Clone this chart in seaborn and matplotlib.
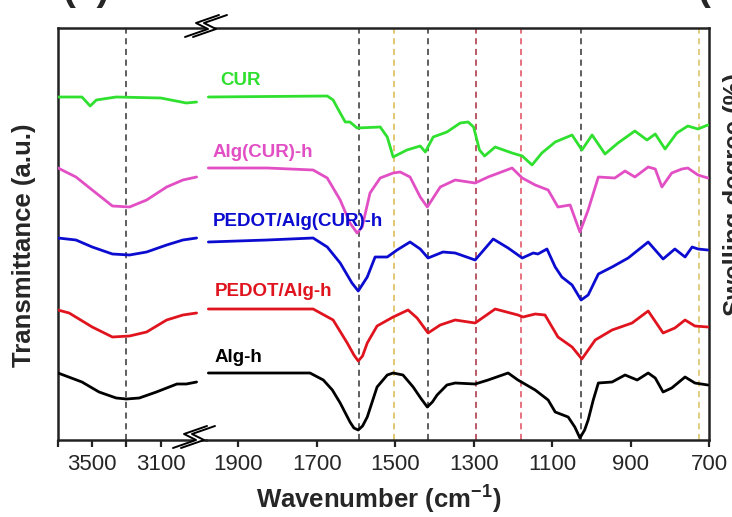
import numpy as np
import pandas as pd
import matplotlib
matplotlib.use("Agg")
import matplotlib.pyplot as plt
import seaborn as sns
from matplotlib.lines import Line2D
from matplotlib.patches import Polygon

sns.set_theme(style="white")
plt.rcParams["font.family"] = ["Liberation Sans", "DejaVu Sans"]
plt.rcParams["mathtext.fontset"] = "custom"
plt.rcParams["mathtext.rm"] = "Liberation Sans"
plt.rcParams["mathtext.bf"] = "Liberation Sans:bold"
plt.rcParams["lines.solid_joinstyle"] = "round"
plt.rcParams["lines.solid_capstyle"] = "round"

# ---------------- data (transmittance, arbitrary offset units) ----------------
alg_h_wn = [3700, 3560, 3460, 3360, 3300, 3225, 3125, 3005, 2950, 2890,
            1976, 1717, 1683, 1660, 1640, 1615, 1605, 1594, 1583, 1571, 1546, 1520, 1505,
            1480, 1454, 1435, 1418, 1405, 1393, 1368, 1347, 1296, 1263, 1212, 1187, 1143,
            1110, 1092, 1059, 1042, 1029, 1017, 1008, 995, 982, 947, 914, 883, 855, 837,
            817, 795, 761, 736, 703]
alg_h_T = [67, 58, 48, 42, 41, 42, 48, 56, 56, 58,
           67, 67, 60, 50, 37, 18, 12, 10, 14, 23, 53, 65, 67,
           65, 53, 42, 33, 38, 45, 55, 57, 56, 60, 67, 60, 50,
           40, 28, 23, 13, 2, 10, 20, 40, 57, 58, 65, 60, 67, 62,
           48, 52, 63, 57, 55]

pedot_alg_wn = [3700, 3635, 3500, 3382, 3282, 3182, 3065, 2970, 2890,
                1976, 1709, 1658, 1622, 1605, 1594, 1583, 1571, 1546, 1505, 1467, 1444,
                1416, 1385, 1347, 1296, 1245, 1187, 1174, 1143, 1118, 1085, 1049, 1024,
                990, 947, 896, 855, 817, 787, 761, 736, 703]
pedot_alg_T = [130, 127, 113, 103, 104, 108, 120, 125, 127,
               131, 131, 120, 97, 85, 79, 84, 97, 114, 123, 130, 122,
               107, 115, 120, 117, 131, 125, 123, 126, 125, 103, 93, 81,
               100, 110, 117, 129, 107, 112, 120, 114, 113]

pedot_algcur_wn = [3700, 3595, 3500, 3382, 3282, 3182, 3065, 2970, 2890,
                   1976, 1826, 1709, 1673, 1640, 1610, 1594, 1571, 1551, 1520, 1495, 1462,
                   1436, 1416, 1378, 1347, 1296, 1250, 1212, 1176, 1148, 1136, 1113, 1092,
                   1075, 1049, 1026, 1008, 982, 947, 906, 855, 817, 787, 761, 743, 728, 703]
pedot_algcur_T = [202, 200, 193, 186, 185, 188, 195, 200, 202,
                  198, 200, 202, 193, 177, 157, 149, 163, 183, 183, 190, 198,
                  191, 182, 188, 187, 180, 201, 192, 182, 187, 186, 191, 173,
                  163, 155, 140, 145, 166, 173, 182, 198, 181, 191, 183, 193, 191, 190]

algcur_wn = [3700, 3595, 3500, 3382, 3282, 3182, 3065, 2970, 2890,
             1976, 1826, 1709, 1673, 1640, 1615, 1597, 1584, 1564, 1538, 1505, 1487,
             1462, 1436, 1418, 1385, 1347, 1296, 1263, 1202, 1176, 1143, 1110, 1085,
             1054, 1029, 1008, 982, 940, 914, 889, 855, 837, 820, 795, 769, 754, 728, 703]
algcur_T = [272, 263, 250, 234, 233, 240, 253, 260, 263,
            272, 272, 270, 262, 240, 217, 207, 213, 247, 262, 267, 268,
            263, 243, 233, 253, 260, 257, 263, 272, 262, 255, 250, 233,
            235, 208, 230, 263, 262, 269, 263, 273, 271, 253, 267, 271, 272, 265, 262]

cur_wn = [3700, 3560, 3512, 3476, 3360, 3100, 2950, 2890,
          1976, 1673, 1658, 1640, 1627, 1615, 1597, 1538, 1520, 1505, 1470, 1436,
          1423, 1403, 1368, 1334, 1314, 1300, 1285, 1272, 1245, 1202, 1176, 1151,
          1126, 1092, 1049, 1024, 998, 965, 932, 889, 858, 837, 812, 782, 754, 728, 703]
cur_T = [343, 343, 334, 340, 343, 342, 337, 338,
         343, 344, 340, 327, 318, 318, 312, 313, 303, 283, 290, 294,
         288, 303, 308, 317, 318, 313, 290, 284, 293, 287, 284, 275,
         287, 298, 305, 290, 305, 286, 297, 309, 300, 306, 291, 307, 314, 311, 315]

samples = ["CUR", "Alg(CUR)-h", "PEDOT/Alg(CUR)-h", "PEDOT/Alg-h", "Alg-h"]
sample_colors = ["#2fe02f", "#e24fc4", "#0c0cd0", "#e0141e", "#000000"]

label_wn = [1946, 1966, 1966, 1959, 1961]
label_T = [360, 288, 218, 148, 83]

ref_wn = [3300, 1593, 1502, 1417, 1293, 1180, 1025, 725]
ref_colors = ["#333333", "#333333", "#d9b84a", "#333333", "#a82a3c", "#e04a5c", "#333333", "#d9c060"]

left_ticks = [3700, 3500, 3300, 3100]
left_ticklabels = ["", "3500", "", "3100"]
right_ticks = [1900, 1700, 1500, 1300, 1100, 900, 700]

# ---------------- build dataframe ----------------
frames = []
for name, wn, T in [("CUR", cur_wn, cur_T), ("Alg(CUR)-h", algcur_wn, algcur_T),
                    ("PEDOT/Alg(CUR)-h", pedot_algcur_wn, pedot_algcur_T),
                    ("PEDOT/Alg-h", pedot_alg_wn, pedot_alg_T), ("Alg-h", alg_h_wn, alg_h_T)]:
    d = pd.DataFrame({"wn": wn, "T": T})
    d["sample"] = name
    d["panel"] = np.where(d["wn"] > 2500, "high", "low")
    frames.append(d)
df = pd.concat(frames, ignore_index=True)
palette = dict(zip(samples, sample_colors))

W, H = 732, 517
fig = plt.figure(figsize=(W / 100, H / 100), dpi=100)
fx = lambda px: px / W
fy = lambda py: 1 - py / H

axL = fig.add_axes([fx(58), fy(440), fx(206) - fx(58), fy(28) - fy(440)])
axR = fig.add_axes([fx(206), fy(440), fx(709) - fx(206), fy(28) - fy(440)])

for ax, panel, xl in [(axL, "high", (3700, 2835)), (axR, "low", (1982, 700))]:
    sub = df[df["panel"] == panel]
    sns.lineplot(data=sub, x="wn", y="T", hue="sample", palette=palette,
                 estimator=None, sort=True, lw=2.0, legend=False, ax=ax, zorder=3)
    ax.set_xlim(*xl)
    ax.set_ylim(0, 412)
    ax.set_yticks([])
    ax.set_xlabel("")
    ax.set_ylabel("")
    for w, c in zip(ref_wn, ref_colors):
        if xl[1] <= w <= xl[0]:
            ax.axvline(w, color=c, lw=1.1, ls=(0, (4, 3)), zorder=2)
    for s in ax.spines.values():
        s.set_color("#222222")
        s.set_linewidth(1.8)
    ax.tick_params(axis="x", direction="out", length=5, width=1.6, color="#222222",
                   labelsize=16, pad=5, bottom=True)
    ax.set_facecolor("none")

axL.spines["right"].set_visible(False)
axR.spines["left"].set_visible(False)
axL.set_xticks(left_ticks)
axL.set_xticklabels(left_ticklabels)
axR.set_xticks(right_ticks)
axR.set_xticklabels([str(t) for t in right_ticks])

for name, w, t, c in zip(samples, label_wn, label_T, sample_colors):
    axR.text(w, t, name, color=c, fontsize=13.5, fontweight="bold", ha="left", va="center", zorder=5)

# axis break symbols
def draw_break(cx, cy):
    shape = np.array([(-17, 11), (6, 3), (-6, -3), (17, -11)], dtype=float)
    a = shape + np.array([cx - 4, cy])
    b = shape + np.array([cx + 4, cy])
    poly = np.vstack([a, b[::-1]])
    fig.add_artist(Polygon(np.column_stack([poly[:, 0] / W, 1 - poly[:, 1] / H]),
                           closed=True, facecolor="white", edgecolor="none",
                           transform=fig.transFigure, zorder=10))
    for p in (a, b):
        fig.add_artist(Line2D(p[:, 0] / W, 1 - p[:, 1] / H, color="black", lw=1.4,
                              transform=fig.transFigure, zorder=11))

draw_break(206, 26)
draw_break(194, 437)

fig.text(fx(24), fy(245), "Transmittance (a.u.)", rotation=90, ha="center", va="center",
         fontsize=18.5, fontweight="bold")
fig.text(fx(379), fy(499), r"Wavenumber (cm$^{\mathbf{-1}}$)", ha="center", va="center",
         fontsize=18.5, fontweight="bold")
fig.text(fx(62), fy(0), "(a)", ha="left", va="baseline", fontsize=28, fontweight="bold")
fig.text(fx(697), fy(0), "(b)", ha="left", va="baseline", fontsize=28, fontweight="bold")
fig.text(fx(723), fy(195), "Swelling degree (%)", rotation=90, ha="left", va="center",
         fontsize=18.5, fontweight="bold")

fig.savefig("out.png", dpi=100)
